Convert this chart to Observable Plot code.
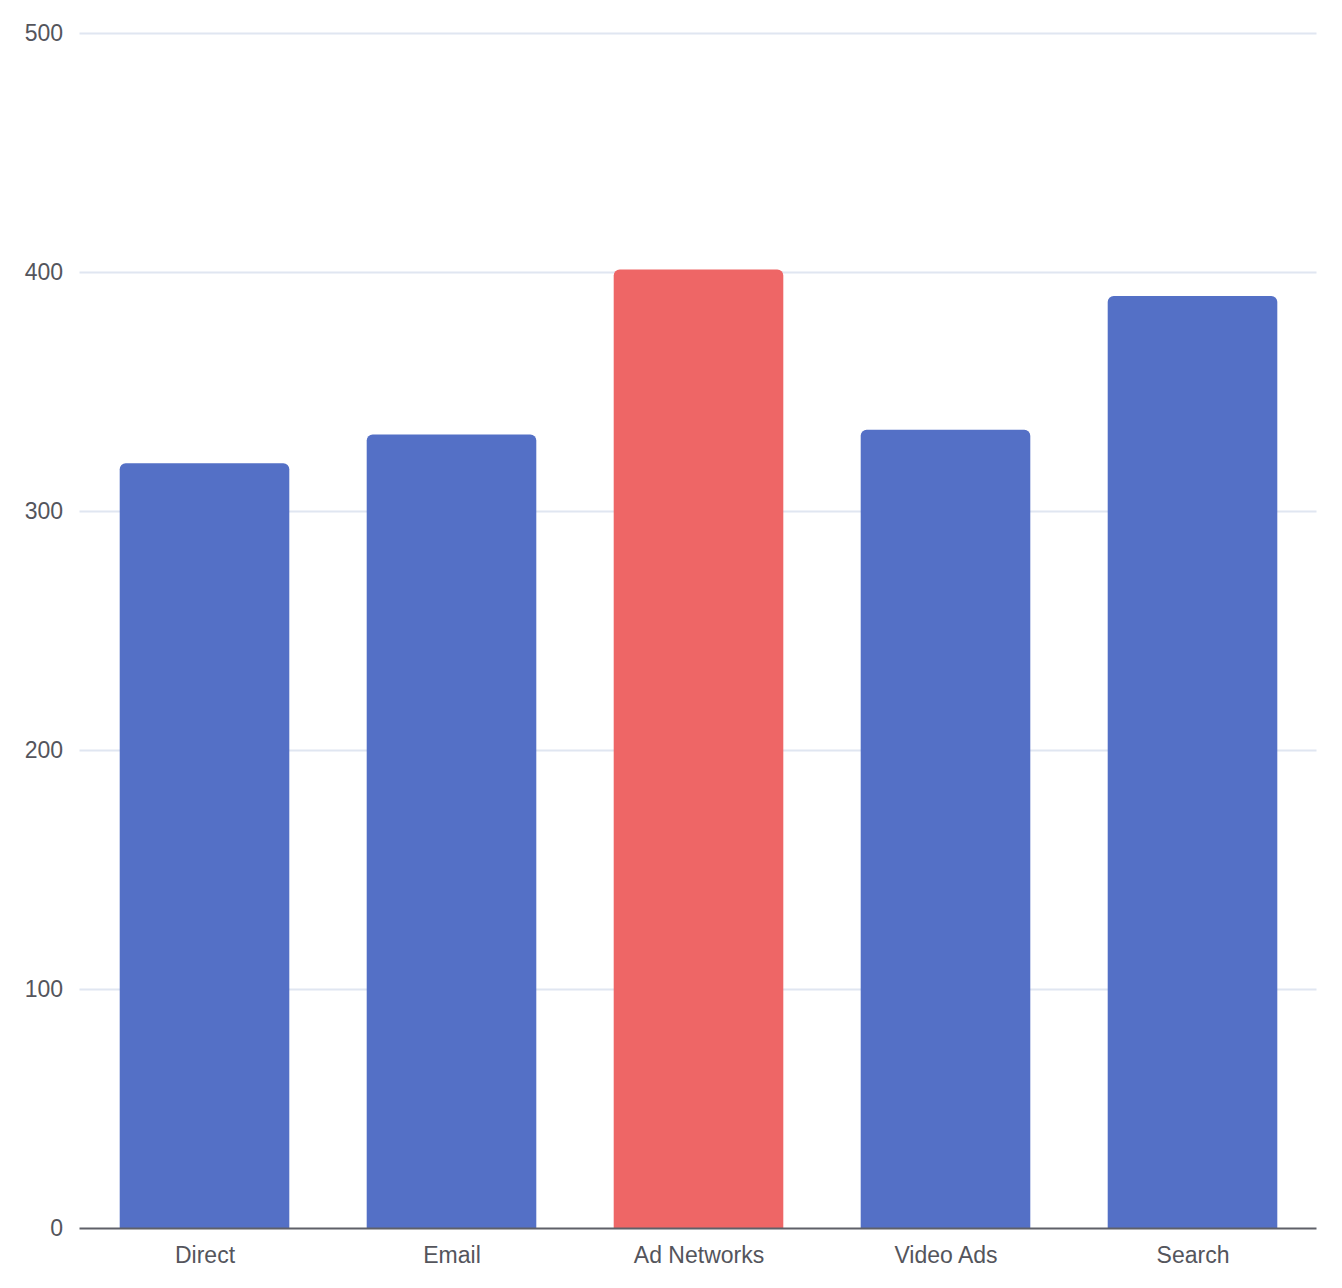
<!DOCTYPE html>
<html>
<head>
<meta charset="utf-8">
<script src="https://cdn.jsdelivr.net/npm/d3@7"></script>
<script src="https://cdn.jsdelivr.net/npm/@observablehq/plot@0.6"></script>
<style>
  html, body { margin: 0; padding: 0; background: #fff; }
  #chart svg { display: block; }
</style>
</head>
<body>
<div id="chart"></div>
<script>
const categories = ["Direct", "Email", "Ad Networks", "Video Ads", "Search"];
const values = [320, 332, 401, 334, 390];
const highlighted = ["Ad Networks"];
const yTicks = [0, 100, 200, 300, 400, 500];

const data = categories.map((c, i) => ({category: c, value: values[i], hi: highlighted.includes(c)}));
const blue = "#5470c6", red = "#ee6666";
const fill = d => d.hi ? red : blue;
const inset = 38.7;

const chart = Plot.plot({
  width: 1342,
  height: 1288,
  marginLeft: 79.5,
  marginRight: 25.5,
  marginTop: 33,
  marginBottom: 60,
  style: {fontFamily: "'Liberation Sans', Arial, sans-serif", fontSize: "23px", color: "#54555c", background: "#fff"},
  x: {domain: categories, padding: 0, label: null},
  y: {domain: [0, 500], label: null},
  marks: [
    Plot.ruleY(yTicks.filter(t => t > 0), {stroke: "#e0e6f1", strokeWidth: 2}),
    // rounded top; the bottom rounding falls below the baseline and is clipped
    Plot.barY(data, {x: "category", y1: -4, y2: "value", fill, rx: 6, insetLeft: inset, insetRight: inset, clip: true}),
    Plot.ruleY([0], {stroke: "#5f6068", strokeWidth: 2}),
    Plot.axisY({ticks: yTicks, tickSize: 0, tickPadding: 17, fill: "#54555c", fontSize: 23}),
    Plot.axisX({tickSize: 0, tickPadding: 18, fill: "#54555c", fontSize: 23})
  ]
});
document.getElementById("chart").appendChild(chart);
</script>
</body>
</html>
